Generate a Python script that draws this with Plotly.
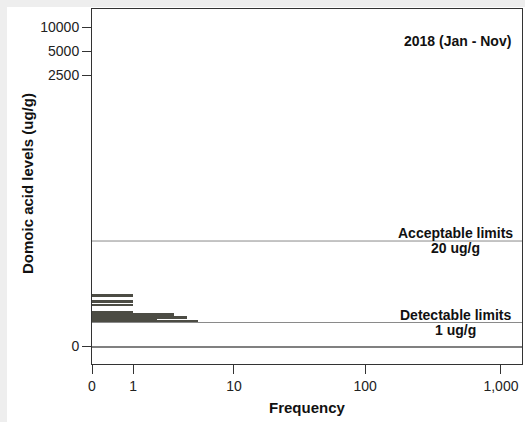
import numpy as np
import plotly.graph_objects as go

# ---- data ----
levels_ugg = [0.0, 3.4, 2.7, 2.37, 1.71, 1.58, 1.45, 1.32, 1.19, 1.08]   # domoic acid level bins (ug/g)
frequency = [2000, 1, 1, 1, 1, 3, 3, 4, 2, 5]                          # count per bin
x_tick_values = [0, 1, 10, 100, 1000]
x_tick_labels = ["0", "1", "10", "100", "1,000"]
y_tick_values = [0, 2500, 5000, 10000]
y_tick_labels = ["0", "2500", "5000", "10000"]
limit_values = [20, 1]
limit_labels = [("Acceptable limits", "20 ug/g"), ("Detectable limits", "1 ug/g")]
panel_title = "2018 (Jan - Nov)"


def tf(v):
    """log10(v + 1) transform used by both axes."""
    return np.log10(np.asarray(v, dtype=float) + 1.0)


FONT = "Liberation Sans, Arial, sans-serif"
bar_colors = ["#808080" if v == 0 else "#4c4c44" for v in levels_ugg]

fig = go.Figure()
fig.add_trace(go.Bar(
    x=tf(frequency), y=tf(levels_ugg), orientation="h",
    width=0.022, marker=dict(color=bar_colors, line=dict(width=0)),
    hoverinfo="skip", showlegend=False,
))

shapes = []
# light grey frame of the original image
shapes.append(dict(type="rect", xref="paper", yref="paper", x0=-92/430, x1=-85/430,
                   y0=-60/355, y1=10/355 + 1, fillcolor="#eeeeee", line=dict(width=0), layer="below"))
shapes.append(dict(type="rect", xref="paper", yref="paper", x0=-92/430, x1=1 + 3/430,
                   y0=1 + 2/355, y1=1 + 10/355, fillcolor="#eeeeee", line=dict(width=0), layer="below"))
for lv in limit_values:
    shapes.append(dict(type="line", xref="paper", yref="y", x0=0, x1=1,
                       y0=float(tf(lv)), y1=float(tf(lv)), line=dict(color="#8a8a8a", width=1)))

annotations = []
for lv, (top, bottom) in zip(limit_values, limit_labels):
    yy = float(tf(lv))
    annotations.append(dict(text="<b>%s</b>" % top, xref="paper", yref="y", x=0.846, y=yy,
                            xanchor="center", yanchor="bottom", showarrow=False,
                            font=dict(family=FONT, size=14, color="#111"), yshift=-2))
    annotations.append(dict(text="<b>%s</b>" % bottom, xref="paper", yref="y", x=0.846, y=yy,
                            xanchor="center", yanchor="top", showarrow=False,
                            font=dict(family=FONT, size=14, color="#111"), yshift=3))
annotations.append(dict(text="<b>%s</b>" % panel_title, xref="paper", yref="paper",
                        x=(513 - 92) / 430, y=(364 - 41) / 355, xanchor="right", yanchor="middle",
                        showarrow=False, font=dict(family=FONT, size=14, color="#111")))
annotations.append(dict(text="<b>Frequency</b>", xref="paper", yref="paper",
                        x=0.5, y=(364 - 407) / 355, xanchor="center", yanchor="middle",
                        showarrow=False, font=dict(family=FONT, size=15, color="#111")))
annotations.append(dict(text="<b>Domoic acid levels (ug/g)</b>", xref="paper", yref="paper",
                        x=(27 - 92) / 430, y=(364 - 184) / 355, xanchor="center", yanchor="middle",
                        textangle=-90, showarrow=False, font=dict(family=FONT, size=15, color="#111")))

fig.update_layout(
    width=525, height=422,
    margin=dict(l=92, r=3, t=9, b=58),
    paper_bgcolor="white", plot_bgcolor="white",
    barmode="overlay", bargap=0,
    shapes=shapes, annotations=annotations,
    font=dict(family=FONT, size=14, color="#222"),
    xaxis=dict(range=[0, 3.155], tickmode="array", tickvals=tf(x_tick_values).tolist(),
               ticktext=x_tick_labels, ticks="outside", ticklen=9, tickcolor="#333",
               showline=True, linecolor="#333", linewidth=1, mirror=True,
               showgrid=False, zeroline=False, tickfont=dict(size=14, color="#222")),
    yaxis=dict(range=[-0.219, 4.23], tickmode="array", tickvals=tf(y_tick_values).tolist(),
               ticktext=y_tick_labels, ticks="outside", ticklen=9, tickcolor="#333",
               showline=True, linecolor="#333", linewidth=1, mirror=True,
               showgrid=False, zeroline=False, tickfont=dict(size=14, color="#222")),
)

fig.write_html("out.html")
